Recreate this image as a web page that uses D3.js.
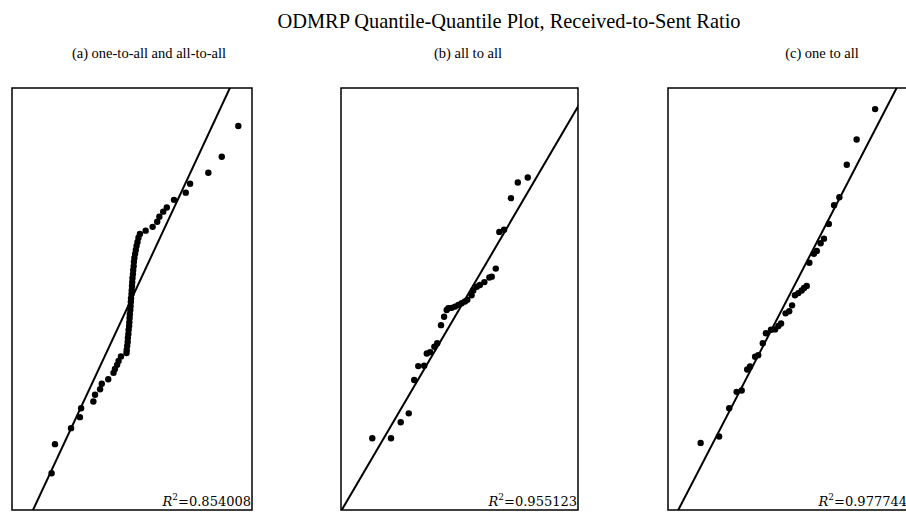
<!DOCTYPE html>
<html>
<head>
<meta charset="utf-8">
<script src="https://cdn.jsdelivr.net/npm/d3@7"></script>
<style>
  body { margin: 0; background: #fff; }
  text { font-family: "Liberation Serif", "Times New Roman", serif; fill: #000; }
</style>
</head>
<body>
<div id="viz"></div>
<script>
// values, in percent of each plot frame (x: theoretical, y: sample)
var panelTitles = ["(a) one-to-all and all-to-all", "(b) all to all", "(c) one to all"];
var r2Values = ["0.854008", "0.955123", "0.977744"];
var fitSlopes = [1.219, 0.959, 1.099];
var fitIntercepts = [-10.67, -0.3, -4.7];

var qqA = [
    [94.3, 91.0], [87.4, 83.7], [81.8, 79.9], [74.2, 77.3], [72.4, 75.2], [67.5, 73.5],
    [64.5, 71.7], [63.0, 70.7], [61.4, 69.5], [60.5, 68.3], [58.6, 67.1], [55.7, 66.2],
    [53.3, 65.4], [52.7, 64.5], [52.3, 63.5], [51.9, 62.6], [51.6, 61.6], [51.3, 60.7],
    [51.0, 59.7], [50.8, 58.8], [50.7, 57.8], [50.5, 56.9], [50.4, 55.9], [50.2, 55.0],
    [50.1, 54.0], [50.0, 53.1], [49.9, 52.1], [49.8, 51.2], [49.6, 50.2], [49.5, 49.3],
    [49.4, 48.3], [49.3, 47.4], [49.1, 46.4], [49.0, 45.5], [48.9, 44.5], [48.8, 43.6],
    [48.6, 42.7], [48.5, 41.7], [48.3, 40.8], [48.2, 39.8], [48.0, 38.9], [47.8, 37.9],
    [47.7, 37.2], [45.4, 36.4], [44.4, 35.3], [43.8, 34.4], [42.9, 33.4], [42.3, 32.5],
    [40.1, 31.0], [37.4, 29.9], [36.7, 28.6], [34.6, 27.3], [33.9, 25.7], [28.8, 24.1],
    [28.3, 22.0], [24.6, 19.4], [17.9, 15.6], [16.5, 8.7]
];

var qqB = [
    [78.8, 78.8], [74.6, 77.6], [71.7, 73.9], [68.8, 66.4], [66.8, 65.9], [65.3, 57.2],
    [63.6, 55.3], [62.6, 55.1], [60.5, 54.0], [58.6, 53.3], [57.3, 52.9], [55.8, 52.0],
    [55.1, 50.9], [53.3, 49.8], [52.3, 49.4], [50.9, 49.0], [49.5, 48.6], [48.1, 48.2],
    [46.7, 47.9], [45.3, 47.8], [44.6, 47.4], [43.5, 45.8], [42.2, 43.8], [40.6, 39.5],
    [39.4, 38.7], [37.6, 37.4], [36.2, 37.1], [35.1, 34.2], [32.6, 34.1], [30.9, 30.8],
    [28.6, 22.9], [25.2, 20.8], [21.1, 17.0], [13.2, 17.0]
];

var qqC = [
    [86.3, 95.0], [78.6, 87.8], [74.5, 81.8], [71.4, 74.1], [69.2, 72.2], [67.0, 67.8],
    [65.0, 64.3], [63.6, 63.2], [62.0, 61.4], [60.8, 60.7], [58.9, 58.6], [57.8, 53.1],
    [56.7, 52.6], [55.7, 52.0], [54.3, 51.4], [52.9, 50.9], [51.7, 48.5], [50.5, 47.1],
    [49.0, 46.6], [47.1, 44.2], [46.0, 43.6], [44.6, 42.8], [42.9, 42.7], [40.8, 41.9],
    [39.5, 39.5], [37.6, 36.7], [36.3, 36.3], [34.2, 34.0], [33.0, 33.3], [30.7, 28.3],
    [28.6, 28.0], [25.5, 24.1], [21.3, 17.4], [13.6, 15.9]
];

var qqSets = [qqA, qqB, qqC];

const width = 906;
const height = 512;

var panelLeft = [12, 341, 668];
var panelWidth = [240, 237, 240];
var subtitleX = [149, 468, 822];
var panelTop = 88;
var panelHeight = 422;

var svg = d3.select("#viz")
    .append("svg")
    .attr("width", width)
    .attr("height", height);

svg.append("text")
    .attr("x", 509)
    .attr("y", 28)
    .attr("text-anchor", "middle")
    .style("font-size", "20.4px")
    .text("ODMRP Quantile-Quantile Plot, Received-to-Sent Ratio");

var defs = svg.append("defs");

qqSets.forEach(function (pts, i) {
    var x = d3.scaleLinear().domain([0, 100]).range([panelLeft[i], panelLeft[i] + panelWidth[i]]);
    var y = d3.scaleLinear().domain([0, 100]).range([panelTop + panelHeight, panelTop]);

    svg.append("text")
        .attr("x", subtitleX[i])
        .attr("y", 58)
        .attr("text-anchor", "middle")
        .style("font-size", "14.5px")
        .text(panelTitles[i]);

    defs.append("clipPath")
        .attr("id", "clip" + i)
        .append("rect")
        .attr("x", x(0))
        .attr("y", y(100))
        .attr("width", x(100) - x(0))
        .attr("height", y(0) - y(100));

    var g = svg.append("g");

    // fitted line
    var lineX = [-20, 120];
    g.append("line")
        .attr("clip-path", "url(#clip" + i + ")")
        .attr("x1", x(lineX[0]))
        .attr("y1", y(fitSlopes[i] * lineX[0] + fitIntercepts[i]))
        .attr("x2", x(lineX[1]))
        .attr("y2", y(fitSlopes[i] * lineX[1] + fitIntercepts[i]))
        .attr("stroke", "#000")
        .attr("stroke-width", 2);

    g.selectAll("circle")
        .data(pts)
        .enter()
        .append("circle")
        .attr("cx", function (d) { return x(d[0]); })
        .attr("cy", function (d) { return y(d[1]); })
        .attr("r", 3.2)
        .attr("fill", "#000");

    g.append("rect")
        .attr("x", x(0))
        .attr("y", y(100))
        .attr("width", x(100) - x(0))
        .attr("height", y(0) - y(100))
        .attr("fill", "none")
        .attr("stroke", "#000")
        .attr("stroke-width", 1.5);

    var r2 = g.append("text")
        .attr("x", x(100) - 1)
        .attr("y", y(0) - 4)
        .attr("text-anchor", "end")
        .style("font-family", "'DejaVu Serif', serif")
        .style("font-size", "13px");
    r2.append("tspan").style("font-style", "italic").text("R");
    r2.append("tspan").attr("dy", -6).style("font-size", "9px").text("2");
    r2.append("tspan").attr("dy", 6).text("=" + r2Values[i]);
});
</script>
</body>
</html>
